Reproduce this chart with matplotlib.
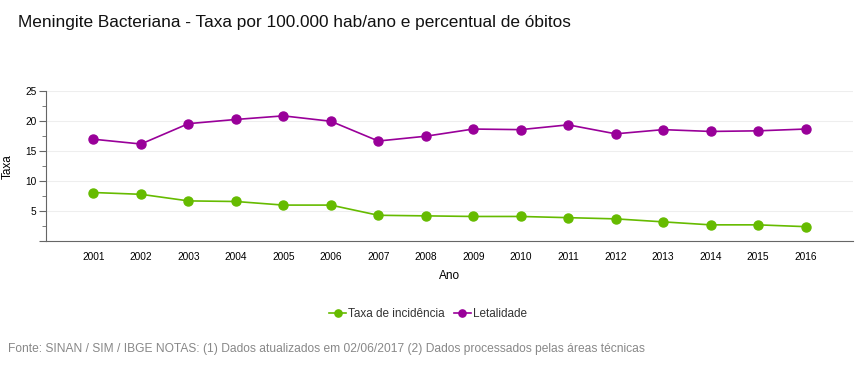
import numpy as np
import matplotlib.pyplot as plt
from matplotlib.ticker import MultipleLocator, FuncFormatter

plt.rcParams['font.family'] = ['Liberation Sans', 'DejaVu Sans']

anos = list(range(2001, 2017))
incidencia = [8.1, 7.8, 6.7, 6.6, 6.0, 6.0, 4.3, 4.2, 4.1, 4.1, 3.9, 3.7, 3.2, 2.7, 2.7, 2.4]
letalidade = [17.0, 16.2, 19.6, 20.3, 20.9, 20.0, 16.7, 17.5, 18.7, 18.6, 19.4, 17.9, 18.6, 18.3, 18.4, 18.7]

cor_verde = '#66bb00'
cor_roxo = '#990099'

fig = plt.figure(figsize=(8.65, 3.7), dpi=100)
ax = fig.add_axes([0.0532, 0.3486, 0.9329, 0.4046])

ax.plot(anos, incidencia, color=cor_verde, lw=1.2, marker='o', ms=6.5,
        label='Taxa de incidência', zorder=3)
ax.plot(anos, letalidade, color=cor_roxo, lw=1.2, marker='o', ms=6.5,
        label='Letalidade', zorder=3)

ax.set_xlim(2000, 2017)
ax.set_ylim(0, 25)
ax.set_xticks(anos)
ax.yaxis.set_major_locator(MultipleLocator(5))
ax.yaxis.set_minor_locator(MultipleLocator(2.5))
ax.yaxis.set_major_formatter(FuncFormatter(lambda v, p: '' if v == 0 else '%d' % v))

ax.grid(axis='y', color='#eeeeee', lw=0.8, zorder=0)
ax.spines['right'].set_visible(False)
ax.spines['top'].set_visible(False)
ax.spines['left'].set_color('#666666')
ax.spines['bottom'].set_color('#666666')
ax.tick_params(axis='y', which='major', length=5, color='#666666', labelsize=7.3, pad=2)
ax.tick_params(axis='y', which='minor', length=3, color='#666666')
ax.tick_params(axis='x', length=0, labelsize=7.3, pad=8)

ax.set_ylabel('Taxa', fontsize=8.5, labelpad=8)
ax.set_xlabel('Ano', fontsize=8.5, labelpad=6)

fig.text(0.021, 0.94, 'Meningite Bacteriana - Taxa por 100.000 hab/ano e percentual de óbitos',
         fontsize=12.4, color='#111111', va='center')

fig.legend(loc='center', bbox_to_anchor=(0.495, 0.151), ncol=2, frameon=False,
           fontsize=8.5, handlelength=1.4, handletextpad=0.2, columnspacing=0.8,
           markerscale=0.8, labelcolor='#333333')

fig.text(0.009, 0.057, 'Fonte: SINAN / SIM / IBGE NOTAS: (1) Dados atualizados em 02/06/2017 '
         '(2) Dados processados pelas áreas técnicas', fontsize=8.65, color='#888888', va='center')

fig.savefig('out.png', dpi=100)
